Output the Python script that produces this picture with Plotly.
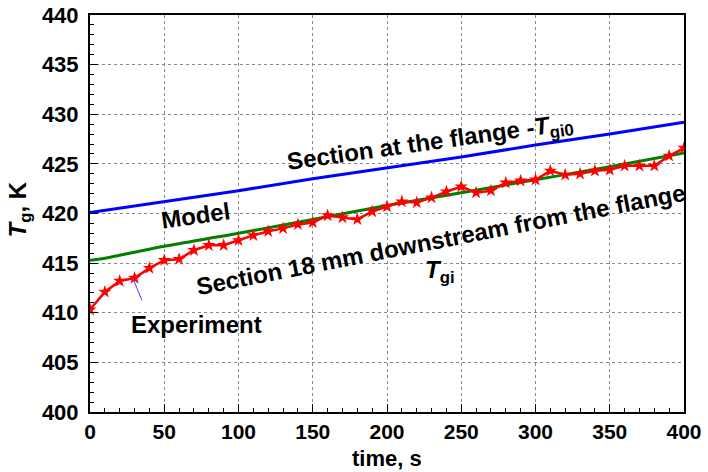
import plotly.graph_objects as go

# Experiment (red stars), every 10 s
exp_t = list(range(0, 401, 10))
exp_T = [410.3, 412.1, 413.2, 413.5, 414.5, 415.3, 415.4, 416.3, 416.8, 416.8,
         417.3, 417.8, 418.2, 418.5, 418.9, 419.1, 419.8, 419.6, 419.4, 420.2,
         420.7, 421.2, 421.1, 421.6, 422.2, 422.7, 422.1, 422.3, 423.1, 423.3,
         423.4, 424.3, 423.9, 424.0, 424.3, 424.4, 424.8, 424.8, 424.8, 425.8,
         426.6]

# Model, section 18 mm downstream (green)
mod_t = [0, 10, 20, 30, 50, 100, 150, 200, 250, 300, 350, 400]
mod_T = [415.3, 415.5, 415.8, 416.1, 416.7, 418.0, 419.4, 420.8, 422.1, 423.4, 424.7, 426.1]

# Section at the flange (blue)
fl_t = [0, 50, 100, 150, 200, 250, 300, 350, 400]
fl_T = [420.1, 421.2, 422.3, 423.5, 424.6, 425.7, 426.9, 428.0, 429.2]

FONT = "Liberation Sans, Arial, sans-serif"

fig = go.Figure()
fig.add_trace(go.Scatter(x=fl_t, y=fl_T, mode="lines",
                         line=dict(color="#0000ff", width=3)))
fig.add_trace(go.Scatter(x=mod_t, y=mod_T, mode="lines",
                         line=dict(color="#008000", width=3, shape="spline")))
fig.add_trace(go.Scatter(x=exp_t, y=exp_T, mode="lines+markers",
                         line=dict(color="#ff0000", width=2.5),
                         marker=dict(symbol="star", size=10, color="#ff0000")))

txt = dict(family=FONT, size=24, color="black", weight="bold")
annotations = [
    dict(x=229, y=427.1, text="Section at the flange -<i>T</i><sub>gi0</sub>",
         textangle=-8, font=txt, showarrow=False),
    dict(x=71, y=419.8, text="Model", textangle=-8, font=txt, showarrow=False),
    dict(x=236, y=417.4, text="Section 18 mm downstream from the flange",
         textangle=-11, font=txt, showarrow=False),
    dict(x=236, y=414.2, text="<i>T</i><sub>gi</sub>", font=txt, showarrow=False),
    dict(x=72, y=408.8, text="Experiment", font=txt, showarrow=False),
    dict(x=28.8, y=413.5, ax=37, ay=410.5, axref="x", ayref="y", text=" ",
         showarrow=True, arrowhead=0, arrowwidth=1, arrowcolor="#4040ff"),
    # axis titles
    dict(xref="paper", yref="paper", x=0.5, y=-0.117, text="time, s",
         font=dict(family=FONT, size=22, color="black", weight="bold"),
         showarrow=False, xanchor="center", yanchor="middle", borderpad=0),
    dict(xref="paper", yref="paper", x=-0.118, y=0.51, text="<i>T</i><sub>g</sub>, K",
         textangle=-90,
         font=dict(family=FONT, size=24, color="black", weight="bold"),
         showarrow=False, xanchor="center", yanchor="middle"),
]

axis_common = dict(
    showline=True, linecolor="black", linewidth=2, mirror=True,
    showgrid=True, gridcolor="#888888", griddash="dot", gridwidth=1,
    ticks="inside", ticklen=8, tickwidth=1, tickcolor="black",
    zeroline=False, automargin=False,
)

fig.update_layout(
    width=708, height=472,
    margin=dict(l=90, r=24, t=15, b=60),
    paper_bgcolor="white", plot_bgcolor="white",
    showlegend=False,
    annotations=annotations,
    xaxis=dict(range=[0, 400], dtick=50, tick0=0, ticklabelstandoff=0,
               tickfont=dict(family=FONT, size=21, color="black", weight="bold"),
               minor=dict(dtick=10, ticks="inside", ticklen=4, tickcolor="black", showgrid=False),
               **axis_common),
    yaxis=dict(range=[400, 440], dtick=5, tick0=400, ticklabelstandoff=5,
               tickfont=dict(family=FONT, size=22, color="black", weight="bold"),
               minor=dict(dtick=1, ticks="inside", ticklen=4, tickcolor="black", showgrid=False),
               **axis_common),
)

fig.write_html("out.html")
